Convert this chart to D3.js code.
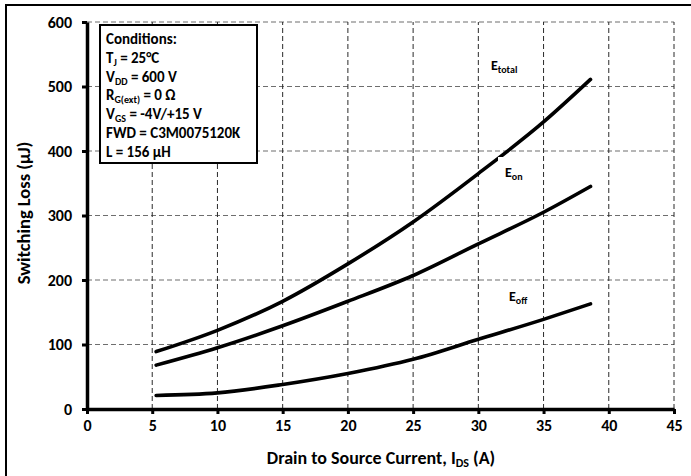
<!DOCTYPE html>
<html>
<head>
<meta charset="utf-8">
<script src="https://cdn.jsdelivr.net/npm/d3@7"></script>
<style>
    html, body { margin: 0; padding: 0; background: #fff; }
    svg text { font-family: Carlito, Lato, "Open Sans", sans-serif; font-weight: bold; fill: #000; }
</style>
</head>
<body>
<main id="root"></main>
<script>
"use strict";

// values
var current = [ 5.3, 10, 15, 20, 25, 30, 35, 38.6 ];
var e_total = [ 89, 122, 167, 225, 290, 365, 445, 511 ];
var e_on    = [ 68, 95, 129, 167, 207, 256, 305, 345 ];
var e_off   = [ 21, 25, 38, 55, 77, 108, 139, 163 ];

var x_ticks = [ 0, 5, 10, 15, 20, 25, 30, 35, 40, 45 ];
var y_ticks = [ 0, 100, 200, 300, 400, 500, 600 ];

var conditions = [
    [ [ 'Conditions:' ] ],
    [ [ 'T' ], [ 'J', 'sub' ], [ ' = 25°C' ] ],
    [ [ 'V' ], [ 'DD', 'sub' ], [ ' = 600 V' ] ],
    [ [ 'R' ], [ 'G(ext)', 'sub' ], [ ' = 0 Ω' ] ],
    [ [ 'V' ], [ 'GS', 'sub' ], [ ' = -4V/+15 V' ] ],
    [ [ 'FWD = C3M0075120K' ] ],
    [ [ 'L = 156 µH' ] ]
];

var series = [
    { name: 'total', values: e_total, label: [ 491, 70 ] },
    { name: 'on',    values: e_on,    label: [ 505, 177 ], knockout: true },
    { name: 'off',   values: e_off,   label: [ 509, 301 ] }
];

var width = 691;
var height = 476;

var svg = d3.select('main#root')
    .append('svg')
    .attr('width', width)
    .attr('height', height);

// outer frame (right / bottom edges fall outside the picture)
svg.append('rect')
    .attr('x', 6).attr('y', 5)
    .attr('width', width + 10).attr('height', height + 10)
    .attr('fill', 'none')
    .attr('stroke', '#000')
    .attr('stroke-width', 2);

var x = d3.scaleLinear().domain([ 0, 45 ]).range([ 87, 674 ]);
var y = d3.scaleLinear().domain([ 0, 600 ]).range([ 409, 22 ]);

// grid
var grid = svg.append('g').classed('grid', true);

grid.selectAll('.hgrid')
    .data( y_ticks.filter( function( d ) { return d > 0; } ) )
    .enter().append('line')
    .attr('x1', x( 0 )).attr('x2', x( 45 ))
    .attr('y1', function( d ) { return y( d ); })
    .attr('y2', function( d ) { return y( d ); })
    .attr('stroke', '#6e6e6e')
    .attr('stroke-width', 1.2)
    .attr('stroke-dasharray', '5,3');

grid.selectAll('.vgrid')
    .data( x_ticks.filter( function( d ) { return d > 0; } ) )
    .enter().append('line')
    .attr('y1', y( 0 )).attr('y2', y( 600 ))
    .attr('x1', function( d ) { return x( d ); })
    .attr('x2', function( d ) { return x( d ); })
    .attr('stroke', '#2a2a2a')
    .attr('stroke-width', 1)
    .attr('stroke-dasharray', '5,3');

// axes
var x_axis = d3.axisBottom( x )
    .tickValues( x_ticks )
    .tickSize( 5 )
    .tickSizeOuter( 0 )
    .tickPadding( 6 );

var y_axis = d3.axisLeft( y )
    .tickValues( y_ticks )
    .tickSize( 5 )
    .tickSizeOuter( 0 )
    .tickPadding( 10 );

var gx = svg.append('g')
    .attr('transform', 'translate(0,' + y( 0 ) + ')')
    .call( x_axis );

var gy = svg.append('g')
    .attr('transform', 'translate(' + x( 0 ) + ',0)')
    .call( y_axis );

[ gx, gy ].forEach( function( g ) {
    g.select('.domain').attr('stroke', '#000').attr('stroke-width', 3.5);
    g.selectAll('.tick line').attr('stroke', '#000').attr('stroke-width', 3);
    g.selectAll('.tick text')
        .attr('fill', '#000')
        .style('font-size', '16px')
        .style('font-family', 'Carlito, Lato, sans-serif')
        .style('font-weight', 'bold');
});

// curves
var line = d3.line()
    .x( function( d ) { return x( d[ 0 ] ); })
    .y( function( d ) { return y( d[ 1 ] ); })
    .curve( d3.curveMonotoneX );

svg.append('g').classed('curves', true)
    .selectAll('path')
    .data( series )
    .enter().append('path')
    .attr('d', function( s ) { return line( d3.zip( current, s.values ) ); })
    .attr('fill', 'none')
    .attr('stroke', '#000')
    .attr('stroke-width', 3.6)
    .attr('stroke-linecap', 'round');

// curve labels
var labels = svg.append('g').classed('labels', true);

series.forEach( function( s ) {
    if ( s.knockout ) {
        labels.append('rect')
            .attr('x', s.label[ 0 ] - 7).attr('y', s.label[ 1 ] - 20)
            .attr('width', 32).attr('height', 26)
            .attr('fill', '#fff');
    }
    var t = labels.append('text')
        .attr('x', s.label[ 0 ])
        .attr('y', s.label[ 1 ])
        .style('font-size', '14px');
    t.append('tspan').text('E');
    t.append('tspan')
        .attr('dy', 3)
        .style('font-size', '10px')
        .text( s.name );
});

// conditions box
var box = svg.append('g').classed('conditions', true);

box.append('rect')
    .attr('x', 100).attr('y', 25)
    .attr('width', 157).attr('height', 138)
    .attr('fill', '#fff')
    .attr('stroke', '#000')
    .attr('stroke-width', 2);

conditions.forEach( function( row, i ) {
    var t = box.append('text')
        .attr('x', 106)
        .attr('y', 44 + i * 18.8)
        .style('font-size', '15px');
    row.forEach( function( part ) {
        var sp = t.append('tspan').text( part[ 0 ] );
        if ( part[ 1 ] === 'sub' ) {
            sp.attr('dy', 3).style('font-size', '10px');
        } else if ( t.selectAll('tspan').size() > 1 ) {
            sp.attr('dy', -3);
        }
    });
});

// axis titles
var xt = svg.append('text')
    .attr('x', 381)
    .attr('y', 464)
    .attr('text-anchor', 'middle')
    .style('font-size', '18px');
xt.append('tspan').text('Drain to Source Current, I');
xt.append('tspan').attr('dy', 3).style('font-size', '12px').text('DS');
xt.append('tspan').attr('dy', -3).text(' (A)');

svg.append('text')
    .attr('transform', 'translate(30,213) rotate(-90)')
    .attr('text-anchor', 'middle')
    .style('font-size', '18.5px')
    .text('Switching Loss (µJ)');
</script>
</body>
</html>
